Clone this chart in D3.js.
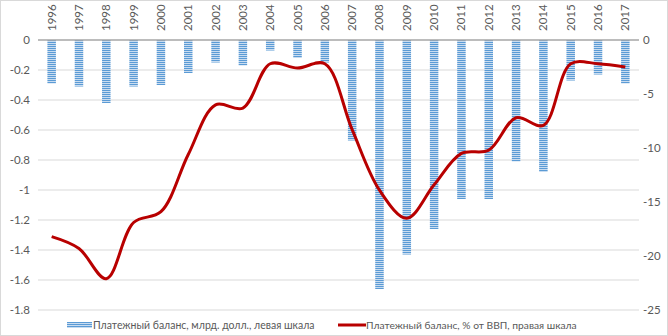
<!DOCTYPE html>
<html><head><meta charset="utf-8">
<script src="https://cdn.jsdelivr.net/npm/d3@7"></script>
<style>body{margin:0;background:#fff}svg{display:block}text{font-family:Lato,"Open Sans","Liberation Sans",sans-serif;fill:#595959}</style>
</head><body><svg id="c" width="668" height="336"></svg>
<script>
const years = ["1996","1997","1998","1999","2000","2001","2002","2003","2004","2005","2006","2007","2008","2009","2010","2011","2012","2013","2014","2015","2016","2017"];
const balanceBn = [-0.29,-0.31,-0.42,-0.31,-0.30,-0.22,-0.15,-0.17,-0.07,-0.12,-0.15,-0.67,-1.66,-1.43,-1.26,-1.06,-1.06,-0.81,-0.88,-0.27,-0.23,-0.29];
const balancePct = [-18.2,-19.3,-22.1,-16.9,-15.9,-10.6,-6.0,-6.3,-2.2,-2.6,-2.2,-8.3,-13.9,-16.5,-13.4,-10.5,-10.2,-7.2,-7.9,-2.2,-2.2,-2.5];
const leftTicks = [0,-0.2,-0.4,-0.6,-0.8,-1,-1.2,-1.4,-1.6,-1.8];
const rightTicks = [0,-5,-10,-15,-20,-25];
const legendLabels = ["Платежный баланс, млрд. долл., левая шкала","Платежный баланс, % от ВВП, правая шкала"];

const svg = d3.select("#c");
const W=668,H=336, L=38, R=639, T=40, B=310;
svg.append("rect").attr("x",0.5).attr("y",0.5).attr("width",W-1).attr("height",H-1).attr("fill","#fff").attr("stroke","#d9d9d9");

const defs = svg.append("defs");
const pat = defs.append("pattern").attr("id","stripe").attr("patternUnits","userSpaceOnUse").attr("width",4).attr("height",2);
pat.append("rect").attr("width",4).attr("height",2).attr("fill","#c9dcf0");
pat.append("rect").attr("width",4).attr("height",1).attr("fill","#5b9bd5");

const x = d3.scaleBand().domain(years).range([L,R]);
const yL = d3.scaleLinear().domain([-1.8,0]).range([B,T]);
const yR = d3.scaleLinear().domain([-25,0]).range([B,T]);

svg.append("g").selectAll("line").data(leftTicks.filter(d=>d!==0)).join("line")
  .attr("x1",L).attr("x2",R).attr("y1",d=>yL(d)).attr("y2",d=>yL(d)).attr("stroke","#d9d9d9").attr("stroke-width",1);

svg.append("g").selectAll("text").data(leftTicks).join("text")
  .attr("x",30).attr("y",d=>yL(d)+4).attr("text-anchor","end").attr("font-size",11.5).text(d=>d);
svg.append("g").selectAll("text").data(rightTicks).join("text")
  .attr("x",643).attr("y",d=>yR(d)+4).attr("text-anchor","start").attr("font-size",11.5).text(d=>d);

const bw = 8.5;
svg.append("g").selectAll("rect").data(years).join("rect")
  .attr("x",(d)=>x(d)+x.bandwidth()/2-bw/2).attr("width",bw)
  .attr("y",yL(0)).attr("height",(d,i)=>yL(balanceBn[i])-yL(0))
  .attr("fill","url(#stripe)");

svg.append("line").attr("x1",L).attr("x2",R).attr("y1",yL(0)).attr("y2",yL(0)).attr("stroke","#a6a6a6").attr("stroke-width",1.5);

svg.append("g").selectAll("text").data(years).join("text")
  .attr("transform",d=>`translate(${x(d)+x.bandwidth()/2+4},31) rotate(-90)`)
  .attr("text-anchor","start").attr("font-size",11.5).text(d=>d);

const line = d3.line().x((d,i)=>x(years[i])+x.bandwidth()/2).y(d=>yR(d)).curve(d3.curveCatmullRom.alpha(0.5));
svg.append("path").datum(balancePct).attr("d",line).attr("fill","none").attr("stroke","#b80000").attr("stroke-width",3).attr("stroke-linejoin","round");

const lg = svg.append("g");
lg.append("rect").attr("x",67).attr("y",322).attr("width",25).attr("height",6).attr("fill","url(#stripe)");
const t1 = lg.append("text").attr("x",93).attr("y",329).attr("font-size",11).text(legendLabels[0]);
lg.append("line").attr("x1",338).attr("x2",366).attr("y1",325).attr("y2",325).attr("stroke","#b80000").attr("stroke-width",3);
const t2 = lg.append("text").attr("x",366).attr("y",329).attr("font-size",11).text(legendLabels[1]);
// fit legend font size to reference widths
[[t1,222],[t2,211]].forEach(([t,w])=>{const cw=t.node().getComputedTextLength(); if(cw>0) t.attr("font-size",11*w/cw);});
</script></body></html>
